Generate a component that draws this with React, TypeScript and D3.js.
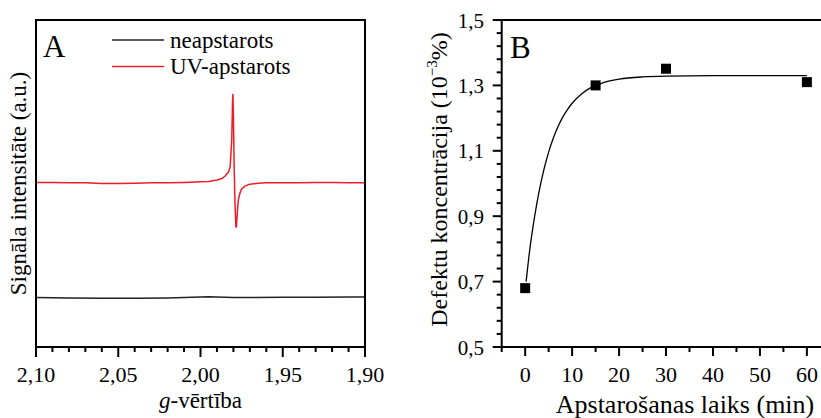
import React from "react";
import * as d3 from "d3";

// ---------- Panel A data (EPR spectra) ----------
const gUV = [2.1, 2.09, 2.08, 2.07, 2.06, 2.05, 2.04, 2.03, 2.02, 2.01, 2.0, 1.995, 1.99, 1.987, 1.985, 1.983, 1.982, 1.981, 1.9805, 1.9803, 1.98, 1.9795, 1.979, 1.9785, 1.9782, 1.978, 1.9775, 1.977, 1.976, 1.975, 1.973, 1.97, 1.965, 1.96, 1.95, 1.94, 1.93, 1.92, 1.91, 1.9];
const intUV = [50.3, 50.3, 50.2, 50.2, 50.0, 50.0, 50.1, 50.2, 50.2, 50.3, 50.5, 50.6, 51.1, 51.5, 52.3, 53.5, 55.0, 63.3, 75.5, 77.4, 71.0, 54.1, 43.4, 37.0, 36.5, 38.2, 41.9, 45.0, 47.1, 48.3, 49.2, 49.8, 50.1, 50.2, 50.2, 50.2, 50.3, 50.3, 50.2, 50.2];
const gDark = [2.1, 2.08, 2.06, 2.04, 2.02, 2.01, 2.0, 1.995, 1.99, 1.98, 1.97, 1.95, 1.93, 1.91, 1.9];
const intDark = [15.1, 15.0, 14.9, 14.9, 15.0, 15.1, 15.3, 15.35, 15.3, 15.15, 15.1, 15.2, 15.2, 15.3, 15.3];
const gTicks = [2.1, 2.05, 2.0, 1.95, 1.9];
const legendLabels = ["neapstarots", "UV-apstarots"];

// ---------- Panel B data (defect concentration) ----------
const timeMin = [0, 15, 30, 60];
const concentration = [0.68, 1.3, 1.351, 1.31];
const fitTime = [0.2, 1, 2, 3, 4, 5, 6, 7, 8, 9, 10, 12, 14, 16, 18, 20, 25, 30, 40, 50, 60];
const fitConc = [0.7, 0.8, 0.898, 0.978, 1.043, 1.096, 1.139, 1.174, 1.203, 1.226, 1.2455, 1.274, 1.293, 1.305, 1.3135, 1.319, 1.326, 1.3286, 1.3298, 1.33, 1.33];
const tTicks = [0, 10, 20, 30, 40, 50, 60];
const cTicks = [0.5, 0.7, 0.9, 1.1, 1.3, 1.5];

const F = { fontFamily: "Liberation Serif" };
const fmt = (d: number, p: number) => d.toFixed(p).replace(".", ",");

export default function App() {
  // Panel A scales
  const ax0 = 36, ax1 = 365, top = 20, bot = 347;
  const xA = d3.scaleLinear().domain([2.1, 1.9]).range([ax0, ax1]);
  const yA = d3.scaleLinear().domain([0, 100]).range([bot, bot - 327]);
  const lineA = d3.line<[number, number]>().x(d => xA(d[0])).y(d => yA(d[1]));
  const uvPts = gUV.map((g, i) => [g, intUV[i]] as [number, number]);
  const darkPts = gDark.map((g, i) => [g, intDark[i]] as [number, number]);
  const minorA = d3.range(0, 21).map(i => 2.1 - i * 0.01);

  // Panel B scales
  const bx0 = 501.7;
  const xB = d3.scaleLinear().domain([-5, 65]).range([bx0, bx0 + 70 * 4.695]);
  const yB = d3.scaleLinear().domain([0.5, 1.5]).range([bot, top]);
  const lineB = d3.line<[number, number]>().x(d => xB(d[0])).y(d => yB(d[1])).curve(d3.curveMonotoneX);
  const fitPts = fitTime.map((t, i) => [t, fitConc[i]] as [number, number]);
  const minorBx = d3.range(-5, 66, 5);
  const minorBy = d3.range(0, 26).map(i => 0.5 + i * 0.04);

  return (
    <svg width={821} height={418} style={{ position: "absolute", left: 0, top: 0 }}>
      <rect width={821} height={418} fill="#fff" />
      {/* ---------- Panel A ---------- */}
      <path d={lineA(darkPts) || ""} fill="none" stroke="#222" strokeWidth={1.5} />
      <path d={lineA(uvPts) || ""} fill="none" stroke="#ee1c25" strokeWidth={1.5} />
      <rect x={ax0} y={top} width={ax1 - ax0} height={bot - top} fill="none" stroke="#000" strokeWidth={2} />
      {minorA.map((g, i) => (
        <line key={"ma" + i} x1={xA(g)} x2={xA(g)} y1={bot} y2={bot + (i % 5 === 0 ? 10 : 5)} stroke="#000" strokeWidth={2} />
      ))}
      {gTicks.map(g => (
        <text key={"ta" + g} x={xA(g)} y={382} textAnchor="middle" fontSize={22} style={F}>{fmt(g, 2)}</text>
      ))}
      <text x={(ax0 + ax1) / 2} y={408} textAnchor="middle" fontSize={23} style={F}>
        <tspan fontStyle="italic">g</tspan>-vērtība
      </text>
      <text transform={`translate(26,${(top + bot) / 2}) rotate(-90)`} textAnchor="middle" fontSize={23} style={F}>
        Signāla intensitāte (a.u.)
      </text>
      <text x={43} y={57} fontSize={31} style={F}>A</text>
      {legendLabels.map((l, i) => (
        <g key={l}>
          <line x1={112} x2={164} y1={40 + i * 26.5} y2={40 + i * 26.5} stroke={i === 0 ? "#222" : "#ee1c25"} strokeWidth={1.5} />
          <text x={170} y={48 + i * 26} fontSize={23} style={F}>{l}</text>
        </g>
      ))}

      {/* ---------- Panel B ---------- */}
      <path d={lineB(fitPts) || ""} fill="none" stroke="#000" strokeWidth={1.3} />
      {timeMin.map((t, i) => (
        <rect key={"p" + t} x={xB(t) - 5} y={yB(concentration[i]) - 5} width={10} height={10} fill="#000" />
      ))}
      <line x1={bx0} x2={821} y1={top} y2={top} stroke="#000" strokeWidth={2} />
      <line x1={bx0} x2={821} y1={bot} y2={bot} stroke="#000" strokeWidth={2} />
      <line x1={bx0} x2={bx0} y1={top - 1} y2={bot + 1} stroke="#000" strokeWidth={2} />
      {minorBx.map((t, i) => (
        <line key={"mbx" + i} x1={xB(t)} x2={xB(t)} y1={bot} y2={bot + (t % 10 === 0 ? 9 : 5)} stroke="#000" strokeWidth={2} />
      ))}
      {minorBy.map((c, i) => (
        <line key={"mby" + i} x1={bx0} x2={bx0 - (i % 5 === 0 ? 9 : 5)} y1={yB(c)} y2={yB(c)} stroke="#000" strokeWidth={2} />
      ))}
      {tTicks.map(t => (
        <text key={"tb" + t} x={xB(t)} y={382} textAnchor="middle" fontSize={22} style={F}>{t}</text>
      ))}
      {cTicks.map(c => (
        <text key={"cb" + c} x={484} y={yB(c) + 7.5} textAnchor="end" fontSize={21} style={F}>{fmt(c, 1)}</text>
      ))}
      <text x={685} y={413} textAnchor="middle" fontSize={26} style={F}>Apstarošanas laiks (min)</text>
      <text transform={`translate(447,${(top + bot) / 2 - 4}) rotate(-90)`} textAnchor="middle" fontSize={24} style={F}>
        Defektu koncentrācija (10<tspan fontSize={15} dy={-10}>−3</tspan><tspan dy={10}>%)</tspan>
      </text>
      <text x={510} y={58} fontSize={31} style={F}>B</text>
    </svg>
  );
}
